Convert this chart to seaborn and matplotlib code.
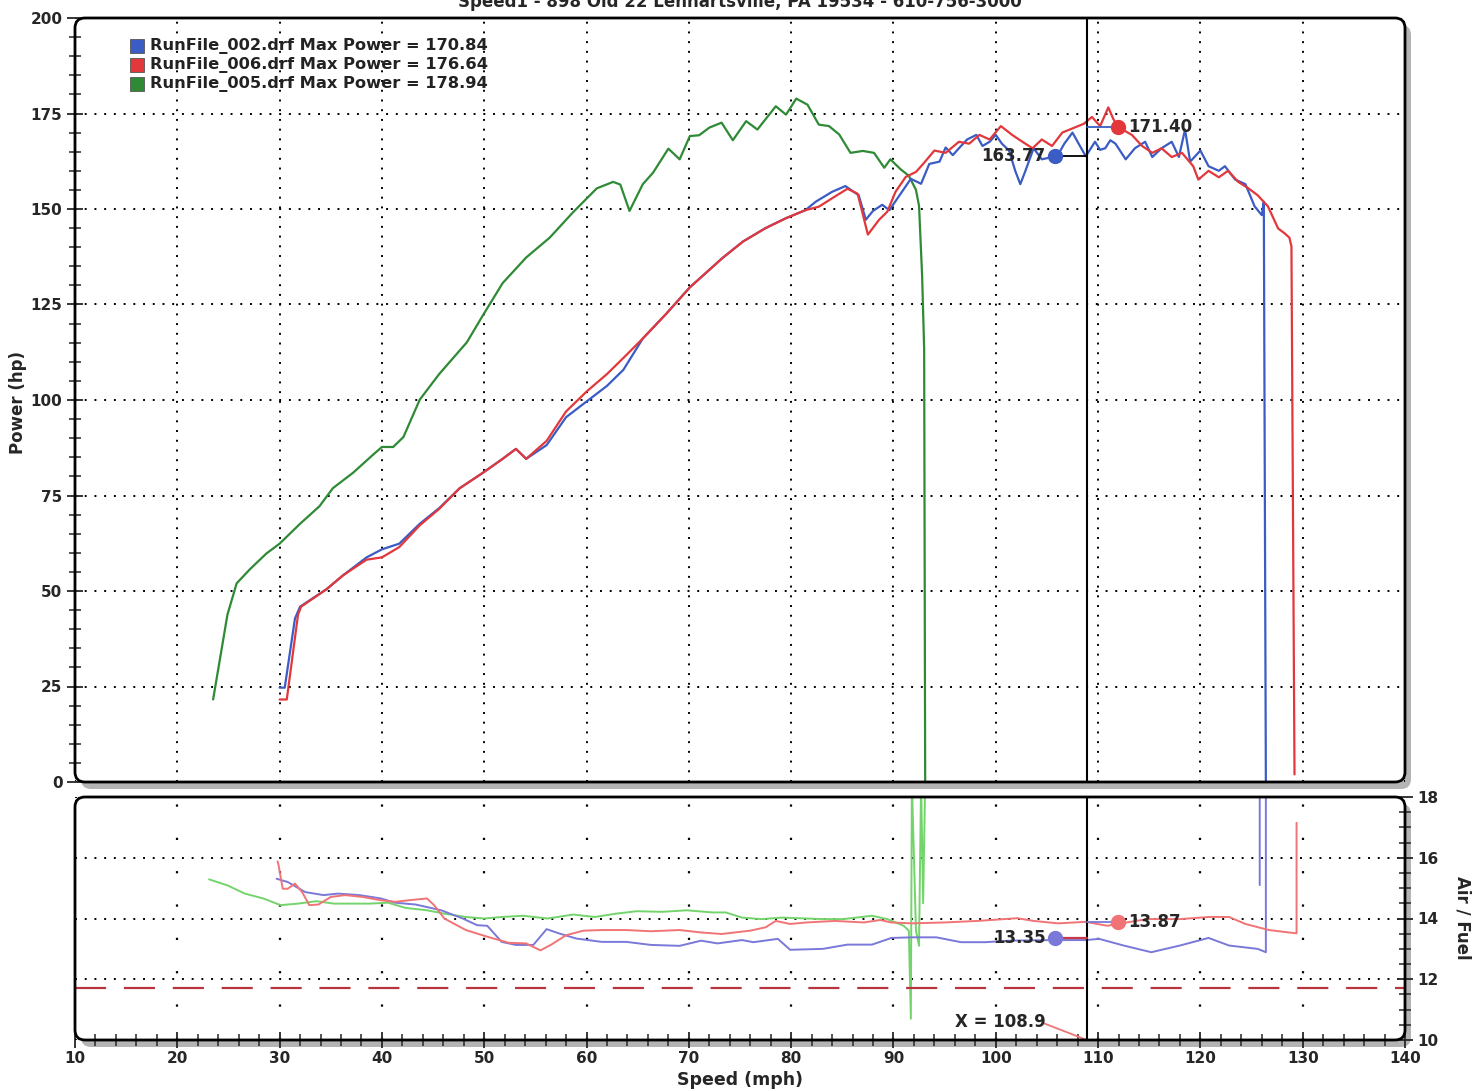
import numpy as np
import pandas as pd
import matplotlib
matplotlib.use("Agg")
import matplotlib.pyplot as plt
import seaborn as sns
from matplotlib.patches import FancyBboxPatch
from matplotlib.ticker import MultipleLocator

# ---------------- data ----------------
legend_labels = ["RunFile_002.drf Max Power = 170.84",
                 "RunFile_006.drf Max Power = 176.64",
                 "RunFile_005.drf Max Power = 178.94"]

blue_speed = [30.0, 30.5, 31.5, 32.0, 34.6, 36.2, 38.5, 40.0, 41.7, 43.7, 45.6, 47.6, 49.9, 51.8, 53.1,
              54.1, 56.1, 58.0, 60.0, 62.0, 63.6, 65.5, 67.8, 70.1, 73.3, 75.3, 77.5, 79.5, 81.4, 82.4,
              84.0, 85.3, 86.6, 87.3, 88.0, 88.9, 89.6, 90.6, 91.7, 92.7, 93.5, 94.5, 95.1, 95.8, 96.4,
              97.2, 98.1, 98.7, 99.4, 100.0, 100.6, 101.3, 101.9, 102.4, 102.9, 103.7, 104.5, 105.5,
              106.0, 106.7, 107.5, 108.1, 108.8, 109.7, 110.2, 110.7, 111.2, 111.7, 112.7, 113.6, 114.6,
              115.3, 116.2, 117.2, 117.9, 118.5, 119.0, 120.0, 120.8, 121.8, 122.4, 123.4, 124.4, 125.3,
              126.0, 126.2, 126.4]
blue_hp = [24.7, 24.7, 42.8, 45.9, 50.5, 54.1, 58.8, 60.9, 62.4, 67.6, 71.7, 76.9, 81.0, 84.6, 87.2,
           84.6, 88.2, 95.5, 99.6, 103.7, 107.9, 116.1, 122.6, 129.5, 137.2, 141.5, 145.0, 147.6, 149.7, 151.9,
           154.5, 156.0, 153.6, 147.2, 149.5, 151.1, 149.7, 153.6, 157.9, 156.6, 161.8, 162.4, 166.1, 164.1, 165.9,
           168.2, 169.4, 166.5, 167.6, 169.4, 167.1, 165.3, 160.0, 156.5, 160.0, 165.9, 163.0, 163.6,
           163.8, 167.1, 170.0, 167.1, 163.8, 167.6, 165.5, 165.9, 168.0, 167.1, 163.0, 165.9, 167.6,
           163.6, 165.9, 167.6, 163.6, 170.8, 162.4, 165.3, 161.2, 160.0, 161.2, 157.7, 156.5, 150.7,
           148.4, 151.9, 0.0]

red_speed = [30.0, 30.7, 31.8, 32.1, 34.6, 36.2, 38.5, 40.0, 41.7, 43.7, 45.6, 47.6, 49.9, 51.8, 53.1,
             54.1, 56.1, 58.0, 60.0, 62.0, 63.6, 65.5, 67.8, 70.1, 73.3, 75.3, 77.5, 79.5, 81.4, 82.7,
             84.0, 85.5, 86.5, 87.5, 88.6, 89.4, 90.2, 91.2, 92.2, 92.9, 94.0, 95.1, 96.4, 97.4, 98.4,
             99.4, 100.5, 101.6, 102.6, 103.6, 104.5, 105.5, 106.5, 107.5, 108.6, 109.4, 110.2, 111.0,
             111.5, 112.0, 113.3, 114.3, 115.3, 116.2, 117.2, 118.2, 119.3, 119.8, 120.8, 121.8, 122.7,
             123.7, 124.7, 125.6, 126.6, 127.6, 128.2, 128.7, 128.9, 129.2]
red_hp = [21.6, 21.6, 43.8, 45.9, 50.5, 54.1, 58.2, 58.8, 61.5, 67.2, 71.5, 76.9, 81.0, 84.6, 87.2,
          84.6, 89.3, 97.0, 102.2, 106.8, 111.0, 116.1, 122.6, 129.5, 137.2, 141.5, 145.0, 147.6, 149.7, 150.6,
          152.8, 155.3, 154.0, 143.3, 147.2, 149.3, 154.5, 158.4, 159.7, 161.8, 165.3, 164.7, 167.6, 167.1, 169.4,
          168.2, 171.7, 169.4, 167.6, 165.9, 168.2, 166.5, 170.0, 171.1, 172.3, 174.1, 171.7, 176.6,
          173.5, 171.4, 169.4, 166.5, 164.7, 165.9, 163.6, 164.7, 161.2, 157.7, 160.0, 158.3, 160.0,
          157.1, 155.4, 153.6, 150.7, 144.9, 143.7, 142.5, 140.2, 2.0]

green_speed = [23.5, 24.9, 25.8, 27.1, 28.7, 30.0, 32.0, 33.9, 35.2, 37.2, 39.1, 40.0, 41.1, 42.1, 43.7,
               45.6, 48.3, 49.9, 51.8, 54.1, 56.4, 58.7, 61.0, 62.6, 63.3, 64.2, 65.5, 66.5, 68.0, 69.1,
               70.1, 71.0, 72.0, 73.2, 74.3, 75.6, 76.7, 78.5, 79.5, 80.5, 81.6, 82.7, 83.7, 84.7, 85.8,
               87.0, 88.1, 89.1, 89.7, 90.7, 91.5, 92.2, 92.5, 92.8, 93.0, 93.1]
green_hp = [21.6, 43.8, 52.0, 55.7, 59.8, 62.4, 67.6, 72.2, 76.9, 81.0, 85.6, 87.7, 87.7, 90.3, 100.1,
            106.8, 115.1, 122.3, 130.6, 137.3, 142.5, 149.2, 155.4, 157.1, 156.4, 149.5, 156.5, 159.5, 165.8, 163.0,
            169.1, 169.3, 171.3, 172.6, 168.0, 173.0, 170.8, 176.9, 174.7, 178.9, 177.3, 172.1, 171.7, 169.5, 164.7,
            165.2, 164.7, 160.8, 163.0, 160.4, 158.7, 155.0, 150.8, 132.6, 113.4, 0.0]

blue_afr_speed = [29.7, 30.8, 32.5, 34.3, 35.7, 37.8, 39.9, 41.3, 43.3, 45.8, 47.9, 49.3, 50.3, 51.7, 53.1,
                  54.8, 56.1, 57.3, 59.0, 61.5, 63.9, 66.3, 69.1, 71.2, 72.8, 75.2, 76.3, 78.7, 79.9, 83.1,
                  85.5, 87.9, 89.8, 91.8, 94.2, 96.6, 99.0, 101.3, 105.7, 108.8, 110.1, 112.5, 115.2, 118.0,
                  120.8, 122.8, 125.6, 126.4, 126.4, 125.8, 125.8]
blue_afr = [15.31, 15.20, 14.87, 14.77, 14.82, 14.77, 14.66, 14.52, 14.46, 14.27, 14.00, 13.78, 13.76, 13.23, 13.13,
            13.13, 13.65, 13.51, 13.34, 13.23, 13.23, 13.13, 13.10, 13.27, 13.18, 13.29, 13.22, 13.33, 12.97, 13.00,
            13.14, 13.14, 13.36, 13.38, 13.38, 13.22, 13.22, 13.27, 13.29, 13.29, 13.33, 13.11, 12.89, 13.11,
            13.36, 13.11, 13.00, 12.89, 18.5, 18.5, 15.10]

red_afr_speed = [29.8, 29.9, 30.3, 30.8, 31.5, 32.2, 32.9, 33.8, 35.0, 36.4, 38.1, 39.9, 41.3, 42.6, 44.4,
                 45.1, 46.1, 48.2, 50.3, 52.4, 54.1, 55.5, 56.6, 58.0, 59.7, 61.5, 63.9, 66.3, 69.1, 71.2,
                 73.2, 76.0, 77.5, 78.5, 79.9, 81.5, 84.3, 87.1, 88.7, 89.8, 91.8, 95.0, 98.2, 102.1, 103.7,
                 106.1, 108.8, 110.9, 111.9, 114.8, 118.0, 120.8, 122.8, 124.4, 126.7, 129.4, 129.4]
red_afr = [15.88, 15.75, 14.98, 14.98, 15.15, 14.87, 14.44, 14.46, 14.71, 14.77, 14.71, 14.60, 14.55, 14.60, 14.66,
           14.44, 14.00, 13.62, 13.40, 13.20, 13.18, 12.95, 13.15, 13.45, 13.60, 13.62, 13.62, 13.58, 13.62, 13.54,
           13.49, 13.60, 13.71, 13.92, 13.82, 13.87, 13.92, 13.87, 13.95, 13.87, 13.84, 13.87, 13.92, 14.01, 13.92,
           13.84, 13.89, 13.76, 13.82, 13.98, 13.98, 14.05, 14.05, 13.82, 13.62, 13.51, 17.15]

green_afr_speed = [23.1, 24.9, 26.6, 28.4, 30.1, 31.8, 33.6, 35.3, 37.1, 38.8, 40.6, 42.3, 44.4, 46.1, 48.2,
                   50.0, 51.7, 53.8, 56.2, 58.7, 60.8, 62.9, 64.9, 67.4, 69.8, 72.3, 73.6, 75.2, 77.1, 79.1,
                   83.1, 85.1, 87.9, 89.4, 91.0, 91.5, 91.7, 91.8, 92.2, 92.5, 92.7, 92.9, 93.1]
green_afr = [15.29, 15.09, 14.82, 14.66, 14.44, 14.49, 14.57, 14.49, 14.49, 14.49, 14.52, 14.35, 14.27, 14.16, 14.05,
             14.00, 14.05, 14.09, 14.00, 14.13, 14.05, 14.16, 14.24, 14.22, 14.27, 14.20, 14.20, 14.03, 13.98, 14.03,
             13.98, 13.98, 14.09, 13.98, 13.76, 13.60, 10.70, 18.50, 13.60, 13.10, 18.50, 14.50, 18.50]

cursor_x = 108.9
cursor_hp = [163.77, 171.40]       # blue, red
cursor_hp_at = [105.8, 111.9]
cursor_afr = [13.35, 13.87]
target_afr = 11.7

# ---------------- style ----------------
sns.set_style("white")
plt.rcParams['font.family'] = ['DejaVu Sans']
plt.rcParams['font.weight'] = 'bold'

W, H = 1483, 1091
fig = plt.figure(figsize=(W / 100, H / 100), dpi=100)
fig.patch.set_facecolor("white")

ax1 = fig.add_axes([75 / W, 1 - 782 / H, 1330 / W, 764 / H])
ax2 = fig.add_axes([75 / W, 1 - 1040 / H, 1330 / W, 243 / H], sharex=ax1)

BLUE, RED, GREEN = "#3a5cc4", "#e2383c", "#2f8a35"
LBLUE, LRED, LGREEN = "#7a78d8", "#f07476", "#74d46c"

def mk(sp, v, name):
    return pd.DataFrame({"x": sp, "y": v, "run": name})

for sp, v, c in [(green_speed, green_hp, GREEN), (blue_speed, blue_hp, BLUE), (red_speed, red_hp, RED)]:
    sns.lineplot(data=mk(sp, v, ""), x="x", y="y", sort=False, estimator=None, color=c, lw=1.6, ax=ax1)

for sp, v, c in [(green_afr_speed, green_afr, LGREEN), (blue_afr_speed, blue_afr, LBLUE), (red_afr_speed, red_afr, LRED)]:
    sns.lineplot(data=mk(sp, v, ""), x="x", y="y", sort=False, estimator=None, color=c, lw=1.4, ax=ax2)

# limits / ticks
ax1.set_xlim(10, 140)
ax1.set_ylim(0, 200)
ax2.set_ylim(10, 18)

for ax in (ax1, ax2):
    ax.set_xlabel("")
    ax.set_ylabel("")
    for s in ax.spines.values():
        s.set_visible(False)
    ax.xaxis.set_major_locator(MultipleLocator(10))

TL = 11
ax1.yaxis.set_major_locator(MultipleLocator(25))
ax1.yaxis.set_minor_locator(MultipleLocator(5))
ax1.tick_params(axis='y', which='major', direction='inout', length=12, width=1.3, labelsize=TL, pad=3, left=True)
ax1.tick_params(axis='y', which='minor', direction='inout', length=8, width=1.1, left=True)
ax1.tick_params(axis='x', which='both', bottom=False, labelbottom=False)

ax2.xaxis.set_minor_locator(MultipleLocator(2))
ax2.set_yticks([10, 12, 14, 16, 18])
ax2.yaxis.set_minor_locator(MultipleLocator(0.5))
ax2.yaxis.tick_right()
ax2.tick_params(axis='y', which='major', direction='inout', length=12, width=1.3, labelsize=TL,
                right=True, left=False, labelright=True, labelleft=False, pad=3)
ax2.tick_params(axis='y', which='minor', direction='inout', length=8, width=1.1, right=True, left=False)
ax2.tick_params(axis='x', which='major', direction='inout', length=12, width=1.3, labelsize=TL, bottom=True, pad=2)
ax2.tick_params(axis='x', which='minor', direction='inout', length=8, width=1.1, bottom=True)
for lab in ax1.get_yticklabels() + ax2.get_yticklabels() + ax2.get_xticklabels():
    lab.set_fontweight('bold')

# grids
ax1.grid(True, which='major', color='black', linestyle=(0, (1, 4)), lw=1.4)
ax2.yaxis.grid(True, which='major', color='black', linestyle=(0, (1, 4)), lw=1.4)
ax2.xaxis.grid(False)
for xv in range(20, 140, 10):
    ax2.axvline(xv, color='black', linestyle=(0, (1, 14)), lw=1.6, zorder=0.5)
ax2.set_axisbelow(True)
ax1.set_axisbelow(True)

# target AFR line
ax2.axhline(target_afr, color="#b8343e", lw=1.6, dashes=(14, 8))

# cursor
for ax in (ax1, ax2):
    ax.axvline(cursor_x, color='black', lw=1.5, zorder=5)

# cursor markers power
ax1.plot([cursor_hp_at[0], cursor_x], [cursor_hp[0]] * 2, color='black', lw=1.3, zorder=6)
ax1.plot([cursor_x, cursor_hp_at[1]], [cursor_hp[1]] * 2, color=BLUE, lw=1.3, zorder=6)
ax1.plot(cursor_hp_at[0], cursor_hp[0], 'o', color=BLUE, ms=10, zorder=7)
ax1.plot(cursor_hp_at[1], cursor_hp[1], 'o', color=RED, ms=10, zorder=7)
ax1.text(cursor_hp_at[0] - 0.9, cursor_hp[0], f"{cursor_hp[0]:.2f}", ha='right', va='center',
         fontsize=12, fontweight='bold', zorder=8)
ax1.text(cursor_hp_at[1] + 1.0, cursor_hp[1], f"{cursor_hp[1]:.2f}", ha='left', va='center',
         fontsize=12, fontweight='bold', zorder=8)

# cursor markers AFR
ax2.plot([cursor_hp_at[0], cursor_x], [cursor_afr[0]] * 2, color="#c83848", lw=1.6, zorder=6)
ax2.plot([cursor_x, cursor_hp_at[1]], [cursor_afr[1]] * 2, color=LBLUE, lw=1.3, zorder=6)
ax2.plot(cursor_hp_at[0], cursor_afr[0], 'o', color=LBLUE, ms=10, zorder=7)
ax2.plot(cursor_hp_at[1], cursor_afr[1], 'o', color=LRED, ms=10, zorder=7)
ax2.text(cursor_hp_at[0] - 0.9, cursor_afr[0], f"{cursor_afr[0]:.2f}", ha='right', va='center',
         fontsize=12, fontweight='bold', zorder=8)
ax2.text(cursor_hp_at[1] + 1.0, cursor_afr[1], f"{cursor_afr[1]:.2f}", ha='left', va='center',
         fontsize=12, fontweight='bold', zorder=8)
ax2.text(96.0, 10.6, f"X = {cursor_x}", ha='left', va='center', fontsize=12, fontweight='bold')
ax2.plot([104.7, cursor_x], [10.55, 10.0], color=LRED, lw=1.3)

# legend (manual)
for i, (lab, c) in enumerate(zip(legend_labels, [BLUE, RED, GREEN])):
    y = 0.963 - i * 0.0248
    ax1.plot([0.0465], [y], marker='s', ms=10.5, color=c, mec='#555555', mew=0.6,
             transform=ax1.transAxes, clip_on=False)
    ax1.text(0.0565, y, lab, transform=ax1.transAxes, ha='left', va='center',
             fontsize=11.7, fontweight='bold', color='#222222')

# axis labels
fig.text(18 / W, 1 - 402 / H, "Power (hp)", rotation=90, ha='center', va='center', fontsize=12, fontweight='bold')
fig.text(740 / W, 1 - 1080 / H, "Speed (mph)", ha='center', va='center', fontsize=12.5, fontweight='bold')
fig.text(1462 / W, 1 - 918 / H, "Air / Fuel", rotation=-90, ha='center', va='center', fontsize=12, fontweight='bold')
fig.text(740 / W, 1 - 2 / H, "Speed1 - 898 Old 22 Lenhartsville, PA 19534 - 610-756-3000",
         ha='center', va='center', fontsize=12, fontweight='bold')

# rounded frames with shadow
for ax in (ax1, ax2):
    pos = ax.get_position()
    x0, y0 = pos.x0 * W / 100, pos.y0 * H / 100
    w, h = pos.width * W / 100, pos.height * H / 100
    shadow = FancyBboxPatch((x0 + 0.06, y0 - 0.07), w, h, boxstyle="round,pad=0,rounding_size=0.1",
                            transform=fig.dpi_scale_trans, facecolor="#b4b4b4", edgecolor='none', zorder=-1)
    frame = FancyBboxPatch((x0, y0), w, h, boxstyle="round,pad=0,rounding_size=0.1",
                           transform=fig.dpi_scale_trans, facecolor='none', edgecolor='black', lw=2.0, zorder=10)
    white = FancyBboxPatch((x0, y0), w, h, boxstyle="round,pad=0,rounding_size=0.1",
                           transform=fig.dpi_scale_trans, facecolor='white', edgecolor='none', zorder=-0.5)
    fig.patches.extend([shadow, white, frame])
    ax.patch.set_alpha(0)

fig.savefig("out.png", dpi=100, facecolor=fig.get_facecolor())
